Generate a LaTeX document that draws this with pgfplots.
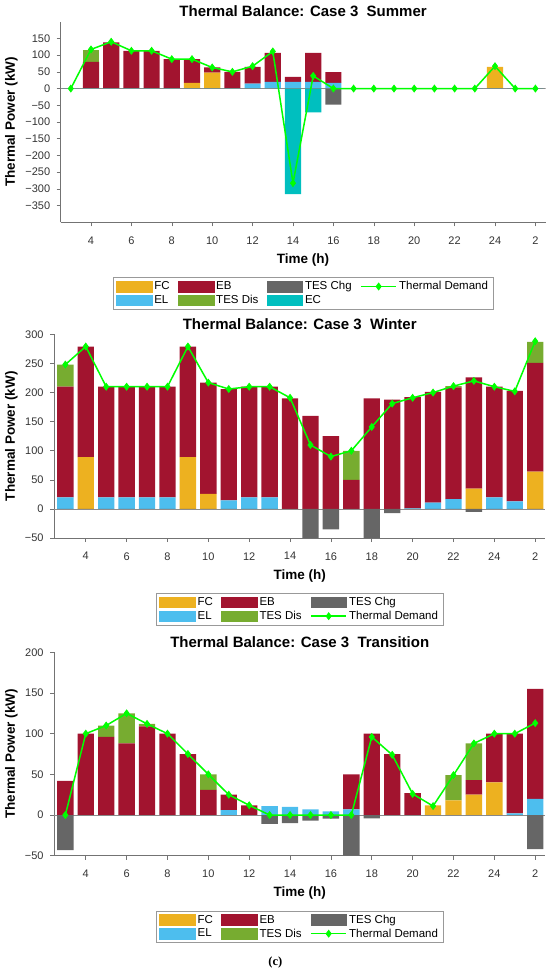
\documentclass[border=0pt]{standalone}
\usepackage{pgfplots}
\pgfplotsset{compat=1.18}
\usepackage{pgfplotstable}
\usepackage{fontspec}
\setmainfont{Liberation Sans}
\newfontfamily\serifc{Liberation Serif}

\definecolor{fcC}{RGB}{237,177,32}
\definecolor{ebC}{RGB}{162,20,47}
\definecolor{chgC}{RGB}{102,102,102}
\definecolor{elC}{RGB}{77,190,238}
\definecolor{disC}{RGB}{119,172,48}
\definecolor{ecC}{RGB}{0,191,191}
\definecolor{dmC}{RGB}{0,255,0}

\pgfplotstableread{
h FC EL EB Dis Chg EC D
3 0 0 0 0 0 0 0
4 0 0 80 36 0 0 117
5 0 0 138 0 0 0 140
6 0 0 113 0 0 0 113
7 0 0 113 0 0 0 113
8 0 0 88 0 0 0 88
9 17 0 71 0 0 0 88
10 48 0 15 0 0 0 63
11 0 0 50 0 0 0 50
12 0 15 50 0 0 0 67
13 0 20 87 0 0 0 111
14 0 20 15 0 0 -316 -283
15 0 20 87 0 0 -71 38
16 0 17 32 0 -48 0 0
17 0 0 0 0 0 0 0
18 0 0 0 0 0 0 0
19 0 0 0 0 0 0 0
20 0 0 0 0 0 0 0
21 0 0 0 0 0 0 0
22 0 0 0 0 0 0 0
23 0 0 0 0 0 0 0
24 65 0 0 0 0 0 67
25 0 0 0 0 0 0 0
26 0 0 0 0 0 0 0
}\tblS

\pgfplotstableread{
h FC EL EB Dis Chg D
3 0 20 190 38 0 248
4 89 0 190 0 0 279
5 0 20 190 0 0 210
6 0 20 190 0 0 210
7 0 20 190 0 0 210
8 0 20 190 0 0 210
9 89 0 190 0 0 279
10 26 0 191 0 0 217
11 0 15 191 0 0 206
12 0 20 190 0 0 210
13 0 20 190 0 0 210
14 0 0 190 0 0 191
15 0 0 160 0 -50 110
16 0 0 125 0 -35 90
17 0 0 50 50 0 100
18 0 0 190 0 -50 141
19 0 0 188 0 -7 181
20 0 1 191 0 0 191
21 0 11 190 0 0 200
22 0 17 192 2 0 211
23 35 0 191 0 -5 220
24 0 20 190 0 0 210
25 0 13 190 0 0 202
26 64 0 187 36 0 288
}\tblW

\pgfplotstableread{
h FC EL EB Dis Chg D
3 0 0 42 0 -43 0
4 0 0 100 0 0 100
5 0 0 96 14 0 110
6 0 0 88 37 0 125
7 0 0 109 3 0 112
8 0 0 100 0 0 100
9 0 0 75 0 0 75
10 0 0 31 19 0 50
11 0 6 19 0 0 25
12 0 0 12 0 0 12
13 0 11 0 0 -11 0
14 0 10 0 0 -10 0
15 0 7 0 0 -7 0
16 0 4.5 0 0 -4.5 0
17 0 7 43 0 -50 0
18 0 0 100 0 -4 96
19 0 0 75 0 0 74
20 0 0 27 0 0 26
21 12 0 0 0 0 11
22 18 0 0 31 0 49
23 25 0 18 45 0 88
24 40 0 60 0 0 100
25 0 2 98 0 0 100
26 0 20 135 0 -42 113
}\tblT

\pgfplotsset{
  legFC/.style={legend image code/.code={\fill[fcC] (0pt,-5.3pt) rectangle (35.5pt,5.3pt);}},
  legEB/.style={legend image code/.code={\fill[ebC] (0pt,-5.3pt) rectangle (35.5pt,5.3pt);}},
  legCHG/.style={legend image code/.code={\fill[chgC] (0pt,-5.3pt) rectangle (35.5pt,5.3pt);}},
  legEL/.style={legend image code/.code={\fill[elC] (0pt,-5.3pt) rectangle (35.5pt,5.3pt);}},
  legDIS/.style={legend image code/.code={\fill[disC] (0pt,-5.3pt) rectangle (35.5pt,5.3pt);}},
  legEC/.style={legend image code/.code={\fill[ecC] (0pt,-5.3pt) rectangle (35.5pt,5.3pt);}},
  legDM/.style={legend image code/.code={\draw[dmC, line width=1.5pt] (0pt,0pt) -- (35.5pt,0pt);
      \draw[dmC, fill=dmC, line width=0.8pt] plot[mark=diamond*, mark size=3.4pt] coordinates {(17.75pt,0pt)};}},
  mainax/.style={
    scale only axis,
    axis lines*=left,
    axis line style={black!55, line width=0.6pt},
    tick style={black!55, line width=0.6pt},
    major tick length=4pt,
    tick align=outside,
    xtick={4,6,...,26},
    xticklabels={4,6,8,10,12,14,16,18,20,22,24,2},
    ticklabel style={font=\fontsize{11}{13}\selectfont, text=black!80},
    xticklabel style={yshift=-6.7pt},
    yticklabel style={xshift=-3pt},
    xlabel={Time (h)},
    ylabel={Thermal Power (kW)},
    label style={font=\fontsize{13.5}{16}\selectfont\bfseries},
    every axis title shift=0pt,
    title style={font=\fontsize{15}{18}\selectfont\bfseries, at={(0.5,1)}, anchor=base, yshift=5pt},
    xlabel style={at={(0.5,0)}, anchor=base, yshift=-41pt},
    legend style={font=\fontsize{11.5}{13}\selectfont, draw=black!40, line width=0.6pt,
      anchor=north, inner xsep=3pt, inner ysep=2pt,
      /tikz/every even column/.append style={column sep=6.5pt}},
    legend cell align=left,
    ybar stacked, bar width=0.8,
  },
  overax/.style={scale only axis, hide axis},
  barneg/.style={ybar, bar width=0.8, bar shift=0pt, draw=none},
  dmline/.style={dmC, line width=1.5pt, mark=diamond*, mark size=3.4pt, mark options={solid, fill=dmC, line width=0.8pt}},
}

\begin{document}
\begin{tikzpicture}
\useasboundingbox (0pt,0pt) rectangle (550pt,-973pt);

% ---------- Panel 1: Summer ----------
\begin{axis}[mainax, at={(60.7pt,-21.7pt)}, anchor=north west,
  width=484.8pt, height=200.6pt,
  xmin=2.5, xmax=26.5, ymin=-400, ymax=200,
  ytick={-350,-300,...,150},
  yticklabels={−350,−300,−250,−200,−150,−100,−50,0,50,100,150},
  ylabel style={at={(-0.0943,0.5)}, anchor=base},
  title={Thermal Balance: Case 3\ \ Summer},
  legend columns=4,
  legend style={at={(0.5,-0.2742)}}]
\addlegendimage{legFC}\addlegendentry{FC}
\addlegendimage{legEB}\addlegendentry{EB}
\addlegendimage{legCHG}\addlegendentry{TES Chg}
\addlegendimage{legDM}\addlegendentry{Thermal Demand}
\addlegendimage{legEL}\addlegendentry{EL}
\addlegendimage{legDIS}\addlegendentry{TES Dis}
\addlegendimage{legEC}\addlegendentry{EC}
\addplot[fill=fcC, draw=none] table[x=h, y=FC] {\tblS};
\addplot[fill=elC, draw=none] table[x=h, y=EL] {\tblS};
\addplot[fill=ebC, draw=none] table[x=h, y=EB] {\tblS};
\addplot[fill=disC, draw=none] table[x=h, y=Dis] {\tblS};
\end{axis}
\begin{axis}[overax, at={(60.7pt,-21.7pt)}, anchor=north west,
  width=484.8pt, height=200.6pt,
  xmin=2.5, xmax=26.5, ymin=-400, ymax=200]
\draw[black!45, line width=0.6pt] (axis cs:2.5,0) -- (axis cs:26.5,0);
\addplot[barneg, fill=chgC] table[x=h, y=Chg] {\tblS};
\addplot[barneg, fill=ecC] table[x=h, y=EC] {\tblS};
\addplot[dmline] table[x=h, y=D] {\tblS};
\end{axis}

% ---------- Panel 2: Winter ----------
\begin{axis}[mainax, at={(54.1pt,-334.3pt)}, anchor=north west,
  width=491.3pt, height=203.8pt,
  xmin=2.45, xmax=26.5, ymin=-50, ymax=300,
  ytick={-50,0,...,300},
  yticklabels={−50,0,50,100,150,200,250,300},
  ylabel style={at={(-0.0796,0.5)}, anchor=base},
  title={Thermal Balance: Case 3\ \ Winter},
  legend columns=3,
  legend style={at={(0.5,-0.27)}}]
\addlegendimage{legFC}\addlegendentry{FC}
\addlegendimage{legEB}\addlegendentry{EB}
\addlegendimage{legCHG}\addlegendentry{TES Chg}
\addlegendimage{legEL}\addlegendentry{EL}
\addlegendimage{legDIS}\addlegendentry{TES Dis}
\addlegendimage{legDM}\addlegendentry{Thermal Demand}
\addplot[fill=fcC, draw=none] table[x=h, y=FC] {\tblW};
\addplot[fill=elC, draw=none] table[x=h, y=EL] {\tblW};
\addplot[fill=ebC, draw=none] table[x=h, y=EB] {\tblW};
\addplot[fill=disC, draw=none] table[x=h, y=Dis] {\tblW};
\end{axis}
\begin{axis}[overax, at={(54.1pt,-334.3pt)}, anchor=north west,
  width=491.3pt, height=203.8pt,
  xmin=2.45, xmax=26.5, ymin=-50, ymax=300]
\draw[black!45, line width=0.6pt] (axis cs:2.45,0) -- (axis cs:26.5,0);
\addplot[barneg, fill=chgC] table[x=h, y=Chg] {\tblW};
\addplot[dmline] table[x=h, y=D] {\tblW};
\end{axis}

% ---------- Panel 3: Transition ----------
\begin{axis}[mainax, at={(54.1pt,-652.3pt)}, anchor=north west,
  width=491.3pt, height=203.4pt,
  xmin=2.45, xmax=26.5, ymin=-50, ymax=200,
  ytick={-50,0,...,200},
  yticklabels={−50,0,50,100,150,200},
  ylabel style={at={(-0.0796,0.5)}, anchor=base},
  title={Thermal Balance: Case 3\ \ Transition},
  legend columns=3,
  legend style={at={(0.5,-0.27)}}]
\addlegendimage{legFC}\addlegendentry{FC}
\addlegendimage{legEB}\addlegendentry{EB}
\addlegendimage{legCHG}\addlegendentry{TES Chg}
\addlegendimage{legEL}\addlegendentry{EL}
\addlegendimage{legDIS}\addlegendentry{TES Dis}
\addlegendimage{legDM}\addlegendentry{Thermal Demand}
\addplot[fill=fcC, draw=none] table[x=h, y=FC] {\tblT};
\addplot[fill=elC, draw=none] table[x=h, y=EL] {\tblT};
\addplot[fill=ebC, draw=none] table[x=h, y=EB] {\tblT};
\addplot[fill=disC, draw=none] table[x=h, y=Dis] {\tblT};
\end{axis}
\begin{axis}[overax, at={(54.1pt,-652.3pt)}, anchor=north west,
  width=491.3pt, height=203.4pt,
  xmin=2.45, xmax=26.5, ymin=-50, ymax=200]
\draw[black!45, line width=0.6pt] (axis cs:2.45,0) -- (axis cs:26.5,0);
\addplot[barneg, fill=chgC] table[x=h, y=Chg] {\tblT};
\addplot[dmline] table[x=h, y=D] {\tblT};
\end{axis}

\node[font=\serifc\fontsize{12.5}{14}\selectfont\bfseries] at (275.3pt,-962.7pt) {(c)};
\end{tikzpicture}
\end{document}
